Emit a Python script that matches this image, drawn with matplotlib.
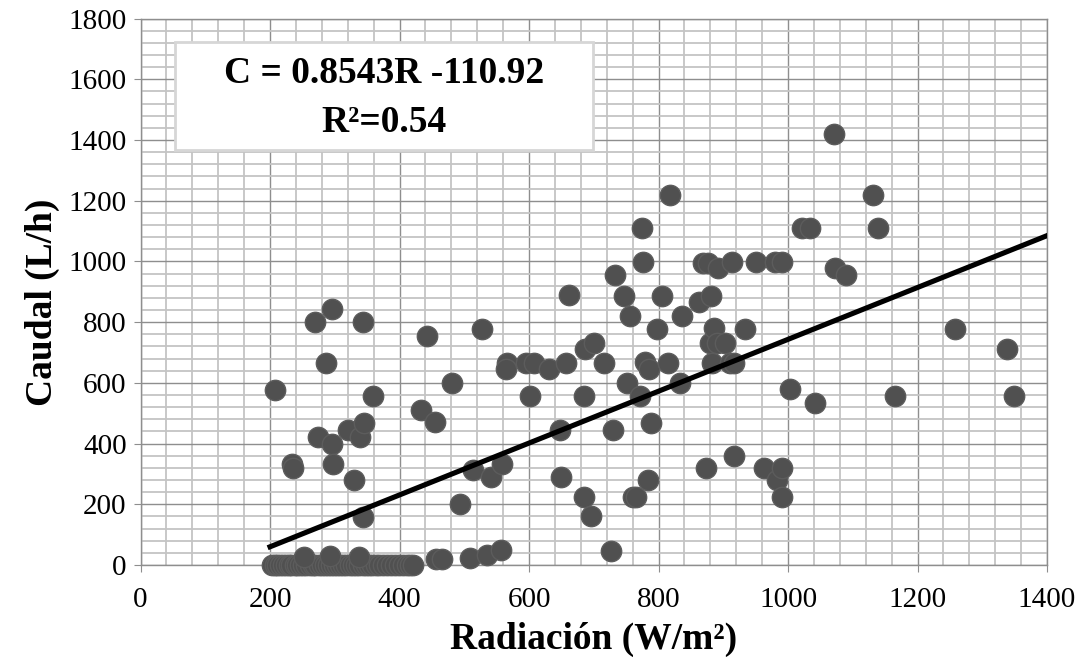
import matplotlib.pyplot as plt
from matplotlib.patches import Rectangle
from matplotlib.ticker import MultipleLocator

plt.rcParams['font.family'] = ['Liberation Serif', 'DejaVu Serif']

# Puntos con caudal cero (nube inferior)
rad_cero = [203, 207, 211, 216, 220, 224, 229, 233, 238, 242, 247, 251, 256, 261,
            266, 270, 275, 280, 285, 289, 294, 299, 303, 308, 313, 318, 323, 328,
            333, 338, 343, 348, 353, 358, 364, 369, 375, 381, 387, 393, 399, 405,
            411, 416, 421]
caudal_cero = [0] * len(rad_cero)

# Resto de mediciones: radiación (W/m²) y caudal (L/h)
radiacion = [252, 293, 337, 457, 465, 509, 535, 556, 727,
             207, 234, 235, 270, 274, 286, 295, 296, 298, 321, 330, 339, 344, 344, 345, 359,
             433, 443, 455, 481, 494, 513, 527, 541, 559, 566, 564, 596, 607, 602, 631,
             648, 649, 657, 661, 685, 686, 685, 696, 701, 716, 729, 733, 747, 751, 756,
             760, 765, 771, 774, 776, 779, 785, 784, 788, 797, 805, 815, 818, 833, 836,
             862, 868, 877, 873, 879, 881, 882, 885, 890, 892, 903, 910, 913, 916, 916,
             934, 951, 963, 980, 983, 990, 990, 990,
             1003, 1021, 1034, 1041, 1071, 1073, 1090, 1132, 1139, 1165, 1258, 1338, 1349]
caudal = [25, 28, 25, 21, 21, 24, 32, 50, 47,
          577, 332, 319, 800, 422, 665, 400, 843, 334, 445, 280, 423, 800, 157, 467, 557,
          511, 755, 470, 601, 201, 313, 778, 289, 333, 665, 645, 667, 667, 557, 646,
          445, 289, 667, 890, 557, 711, 225, 161, 732, 667, 445, 955, 886, 601, 820,
          225, 225, 557, 1109, 999, 668, 645, 280, 467, 777, 886, 667, 1219, 601, 820,
          868, 996, 996, 318, 732, 887, 667, 781, 732, 978, 732, 665, 998, 667, 360,
          779, 998, 318, 998, 280, 998, 318, 225,
          579, 1109, 1109, 535, 1420, 978, 955, 1219, 1109, 557, 777, 711, 557]

# Línea de tendencia C = 0.8543R - 110.92
pendiente = 0.8543
intercepto = -110.92
tendencia_x = [200, 1400]
tendencia_y = [pendiente * r + intercepto for r in tendencia_x]

fig = plt.figure(figsize=(10.86, 6.71), dpi=100)
ax = fig.add_axes([0.1294, 0.158, 0.8347, 0.8142])

ax.set_xlim(0, 1400)
ax.set_ylim(0, 1800)
ax.xaxis.set_major_locator(MultipleLocator(200))
ax.yaxis.set_major_locator(MultipleLocator(200))
ax.xaxis.set_minor_locator(MultipleLocator(40))
ax.yaxis.set_minor_locator(MultipleLocator(40))
ax.grid(which='minor', color='#c4c4c4', lw=1.3, zorder=0)
ax.grid(which='major', color='#8e8e8e', lw=1.0, zorder=0)
ax.set_axisbelow(True)

for s in ax.spines.values():
    s.set_color('#8e8e8e')
    s.set_linewidth(1.0)

ax.tick_params(which='major', direction='out', length=5, color='#8e8e8e',
               labelsize=21, pad=5)
ax.tick_params(which='minor', length=0)
ax.tick_params(axis='x', pad=11)

ax.scatter(rad_cero, caudal_cero, s=215, color='#505050', edgecolors='#5c5c5c',
           linewidths=1, zorder=3, clip_on=False)
ax.scatter(radiacion, caudal, s=215, color='#505050', edgecolors='#5c5c5c',
           linewidths=1, zorder=3, clip_on=False)
ax.plot(tendencia_x, tendencia_y, color='black', lw=3.7, zorder=4)

ax.set_xlabel('Radiación (W/m²)', fontsize=27, fontweight='bold', va='center')
ax.set_ylabel('Caudal (L/h)', fontsize=27, fontweight='bold', va='center')
ax.xaxis.set_label_coords(0.5, -0.137)
ax.yaxis.set_label_coords(-0.108, 0.48)

# Cuadro con la ecuación
fig.patches.append(Rectangle((0.1611, 0.7765), 0.385, 0.161, transform=fig.transFigure,
                             facecolor='white', edgecolor='#d6d6d6', lw=2, zorder=5))
fig.text(0.3536, 0.891, 'C = 0.8543R -110.92', fontsize=27, fontweight='bold',
         ha='center', va='center', zorder=6)
fig.text(0.3536, 0.8167, 'R²=0.54', fontsize=27, fontweight='bold',
         ha='center', va='center', zorder=6)

fig.savefig('out.png', dpi=100)
